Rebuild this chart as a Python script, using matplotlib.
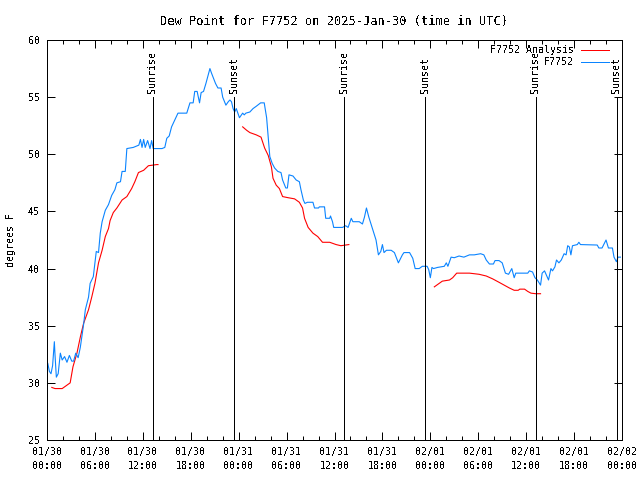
import matplotlib
matplotlib.use('Agg')
import matplotlib.pyplot as plt
import numpy as np
from matplotlib.ticker import MultipleLocator

plt.rcParams['font.family'] = ['DejaVu Sans Mono']
plt.rcParams['font.size'] = 7.2
plt.rcParams['text.antialiased'] = False

# Observed dew point (hours since 01/30 00:00 UTC, degrees F)
obsHours = [0.1, 0.3, 0.5, 0.7, 0.92, 1.0, 1.17, 1.4, 1.67, 1.9, 2.2, 2.5, 2.8, 3.1, 3.33, 3.6, 3.9, 4.17,
            4.58, 4.8, 5.2, 5.4, 5.8, 6.17, 6.45, 6.67, 6.9, 7.3, 7.7, 8.1, 8.5, 8.75, 9.2, 9.4, 9.8, 10.0,
            10.8, 11.5, 11.7, 11.9, 12.1, 12.3, 12.6, 12.9, 13.1, 13.3, 14.4, 14.75, 15.0, 15.3, 15.6, 16.0,
            16.4, 17.5, 17.9, 18.3, 18.5, 18.8, 19.1, 19.3, 19.6, 19.9, 20.4, 20.6, 21.1, 21.4, 21.8, 22.0,
            22.4, 22.7, 22.9, 23.1, 23.3, 23.5, 23.7, 24.1, 24.5, 24.7, 24.9, 25.4, 25.8, 26.2, 26.75, 27.2,
            27.5, 27.7, 27.9, 28.2, 28.5, 28.9, 29.3, 29.5, 29.9, 30.1, 30.3, 30.8, 31.2, 31.6, 31.8, 32.1,
            32.3, 32.6, 33.3, 33.5, 34.0, 34.1, 34.75, 34.9, 35.4, 35.5, 35.75, 35.9, 37.0, 37.4, 37.7, 38.1,
            38.3, 39.1, 39.5, 39.75, 40.0, 40.3, 40.8, 41.2, 41.5, 41.8, 42.0, 42.2, 42.5, 43.1, 43.5, 44.0,
            44.5, 44.7, 45.4, 45.8, 46.1, 46.6, 47.0, 47.6, 47.8, 48.0, 48.2, 48.4, 48.9, 49.75, 50.0, 50.2,
            50.6, 51.0, 51.6, 52.2, 52.9, 53.5, 54.3, 54.7, 55.0, 55.4, 55.9, 56.1, 56.6, 57.0, 57.4, 57.8,
            58.2, 58.5, 58.7, 60.2, 60.4, 60.8, 61.1, 61.4, 61.8, 62.0, 62.3, 62.8, 63.1, 63.3, 63.6, 63.8,
            64.1, 64.4, 64.75, 65.0, 65.2, 65.4, 65.6, 65.8, 66.4, 66.6, 66.8, 68.9, 69.1, 69.5, 70.0, 70.3,
            70.8, 71.0, 71.3, 71.5, 71.8]
obsDew = [31.7, 31.0, 30.8, 31.5, 33.6, 32.5, 30.5, 30.8, 32.6, 32.0, 32.3, 31.8, 32.4, 31.9, 31.9, 32.6, 32.2, 33.1,
          35.1, 36.4, 37.5, 38.7, 39.3, 41.5, 41.4, 43.1, 44.1, 45.1, 45.6, 46.4, 46.9, 47.5, 47.6, 48.5, 48.5, 50.5,
          50.6, 50.8, 51.3, 50.6, 51.3, 50.6, 51.2, 50.5, 51.2, 50.5, 50.5, 50.6, 51.4, 51.6, 52.4, 53.0,
          53.6, 53.6, 54.5, 54.5, 55.5, 55.5, 54.5, 55.4, 55.5, 56.2, 57.5, 57.1, 56.2, 55.8, 55.8, 55.0,
          54.3, 54.6, 54.75, 54.6, 54.0, 53.7, 54.0, 53.2, 53.6, 53.45, 53.6, 53.7, 54.0, 54.2, 54.5, 54.5,
          53.2, 51.5, 49.8, 49.2, 48.8, 48.5, 48.4, 47.75, 47.05, 47.05, 48.2, 48.1, 47.75, 47.6, 46.9, 46.0,
          45.7, 45.8, 45.8, 45.3, 45.3, 45.4, 45.4, 44.4, 44.4, 44.6, 44.1, 43.6, 43.6, 43.75, 43.6, 44.4,
          44.1, 44.1, 43.9, 44.5, 45.3, 44.5, 43.4, 42.5, 41.2, 41.5, 42.1, 41.4, 41.6, 41.6, 41.4, 40.5,
          41.2, 41.4, 41.4, 40.9, 40.0, 40.0, 40.2, 40.2, 39.9, 39.2, 40.1, 40.0, 40.1, 40.2, 40.5, 40.2,
          41.0, 40.95, 41.1, 41.0, 41.2, 41.2, 41.3, 41.2, 40.75, 40.4, 40.4, 40.7, 40.7, 40.5, 39.6, 39.5,
          40.0, 39.2, 39.6, 39.6, 39.8, 39.7, 39.2, 39.0, 38.55, 39.6, 39.8, 39.0, 40.0, 39.8, 40.15, 40.75,
          40.5, 40.75, 41.3, 41.2, 42.0, 41.9, 41.2, 42.0, 42.1, 42.3, 42.1, 42.06, 41.8, 41.8, 42.5, 41.8,
          41.8, 41.0, 40.6, 41.0, 41.0]

# Analysis dew point, three runs (NaN breaks the line between them)
anaHours = [0.6, 1.0, 1.9, 2.9, 3.25, 3.75, 4.17, 4.58, 5.2, 5.6, 6.0, 6.45, 6.9, 7.3, 7.7, 7.9, 8.3, 8.75,
            9.4, 10.0, 10.6, 11.0, 11.45, 12.1, 12.7, 13.75, 13.9, 19.0,
            24.5, 25.0, 25.4, 26.2, 26.8, 27.25, 27.7, 28.1, 28.3, 28.7, 29.1, 29.5, 30.2, 31.0, 31.6, 32.0,
            32.25, 32.7, 33.3, 33.9, 34.5, 35.4, 36.2, 36.8, 37.8, 43.0,
            48.5, 48.9, 49.5, 50.4, 50.8, 51.3, 51.8, 52.9, 54.1, 55.0, 55.8, 56.6, 57.25, 57.9, 58.5, 59.0,
            59.2, 59.8, 60.2, 60.6, 61.2, 61.8]
anaDew = [29.6, 29.5, 29.5, 30.0, 31.4, 32.6, 34.0, 35.2, 36.4, 37.5, 38.7, 40.5, 41.6, 42.8, 43.5, 44.2, 44.9, 45.3,
          46.0, 46.3, 47.0, 47.6, 48.4, 48.6, 49.0, 49.1, 49.1, np.nan,
          52.4, 52.1, 51.9, 51.7, 51.5, 50.55, 49.9, 48.9, 47.9, 47.3, 47.0, 46.3, 46.2, 46.1, 45.8, 45.3,
          44.4, 43.6, 43.1, 42.8, 42.3, 42.3, 42.1, 42.0, 42.1, np.nan,
          38.4, 38.6, 38.9, 39.0, 39.2, 39.6, 39.6, 39.6, 39.5, 39.35, 39.1, 38.8, 38.55, 38.3, 38.1, 38.1,
          38.2, 38.2, 38.0, 37.85, 37.8, 37.8]

eventHours = [13.25, 23.45, 37.25, 47.35, 61.2, 71.35]
eventNames = ['Sunrise', 'Sunset', 'Sunrise', 'Sunset', 'Sunrise', 'Sunset']

tickHours = [0, 6, 12, 18, 24, 30, 36, 42, 48, 54, 60, 66, 72]
tickLabels = ['01/30\n00:00', '01/30\n06:00', '01/30\n12:00', '01/30\n18:00',
              '01/31\n00:00', '01/31\n06:00', '01/31\n12:00', '01/31\n18:00',
              '02/01\n00:00', '02/01\n06:00', '02/01\n12:00', '02/01\n18:00', '02/02\n00:00']

redColor = '#ff0000'
blueColor = '#0a84ff'
lw = 0.72  # one pixel at 100 dpi
dataLw = 0.8

fig = plt.figure(figsize=(6.4, 4.8), dpi=100)
ax = fig.add_axes([47 / 640, 40 / 480, 575 / 640, 400 / 480])

ax.plot(anaHours, anaDew, color=redColor, linewidth=dataLw)
ax.plot(obsHours, obsDew, color=blueColor, linewidth=dataLw)

ax.vlines(eventHours, 25, 55, color='black', linewidth=lw, antialiased=False)
for h, name in zip(eventHours, eventNames):
    ax.text(h, 55.35, name, rotation=90, ha='center', va='bottom')

ax.set(xlim=(0, 72), ylim=(25, 60))
ax.set_xticks(tickHours)
ax.set_xticklabels(tickLabels, linespacing=1.45)
ax.xaxis.set_minor_locator(MultipleLocator(2))
ax.yaxis.set_major_locator(MultipleLocator(5))
ax.tick_params(which='both', direction='in', top=True, right=True, width=lw)
ax.tick_params(which='major', length=6)
ax.tick_params(which='minor', length=3)
ax.tick_params(axis='x', pad=5)
ax.tick_params(axis='y', pad=5)
for s in ax.spines.values():
    s.set_linewidth(lw)
    s.set_antialiased(False)

ax.set_ylabel('degrees F', labelpad=9)
ax.set_title('Dew Point for F7752 on 2025-Jan-30 (time in UTC)', pad=11)

# gnuplot-style key: label on the left, sample line on the right
ax.text(0.9165, 0.975, 'F7752 Analysis', transform=ax.transAxes, ha='right', va='center')
ax.plot([0.929, 0.977], [0.975, 0.975], transform=ax.transAxes, color=redColor, linewidth=lw, antialiased=False)
ax.text(0.9165, 0.945, 'F7752', transform=ax.transAxes, ha='right', va='center')
ax.plot([0.929, 0.977], [0.945, 0.945], transform=ax.transAxes, color=blueColor, linewidth=lw, antialiased=False)

fig.savefig('out.png', dpi=100)
